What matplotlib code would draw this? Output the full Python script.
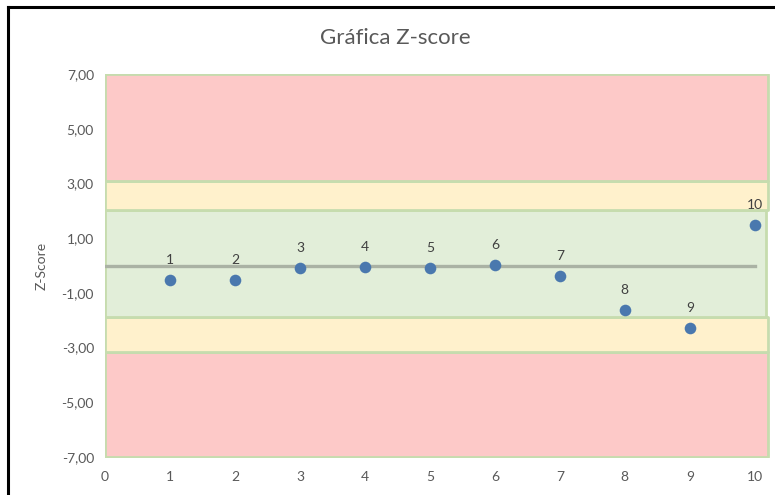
import matplotlib.pyplot as plt
from matplotlib.lines import Line2D

# data
samples = [1, 2, 3, 4, 5, 6, 7, 8, 9, 10]
zscores = [-0.53, -0.53, -0.09, -0.04, -0.09, 0.02, -0.38, -1.61, -2.28, 1.48]
point_labels = ['1', '2', '3', '4', '5', '6', '7', '8', '9', '10']

# background zones (lower, upper) as drawn in the sheet
band_low = [-7.0, -3.15, -1.9, 2.03, 3.08]
band_high = [-3.15, -1.9, 2.03, 3.08, 7.0]
band_colors = ['#fdc9c8', '#fff1cc', '#e2eed9', '#fff1cc', '#fdc9c8']
band_right = [10.2, 10.2, 10.17, 10.2, 10.2]

y_ticks = [7, 5, 3, 1, -1, -3, -5, -7]
x_ticks = [0, 1, 2, 3, 4, 5, 6, 7, 8, 9, 10]

plt.rcParams['font.family'] = ['Lato', 'DejaVu Sans']

fig = plt.figure(figsize=(7.75, 4.95), dpi=100)
ax = fig.add_axes([105 / 775, 38 / 495, 666 / 775, 383 / 495])

for lo, hi, c, r in zip(band_low, band_high, band_colors, band_right):
    ax.fill_between([0, r], lo, hi, facecolor=c, edgecolor='#c6dcae', linewidth=2, zorder=1)

ax.plot([0, 10], [0, 0], color='#aab2a4', linewidth=2.4, zorder=2)
ax.scatter(samples, zscores, s=70, color='#4a78ae', zorder=3, linewidths=0)

for x, y, t in zip(samples, zscores, point_labels):
    ax.annotate(t, (x, y), xytext=(0, 10), textcoords='offset points',
                ha='center', va='bottom', fontsize=10, color='#404040')

ax.set_xlim(0, 10.25)
ax.set_ylim(-7, 7)
ax.set_xticks(x_ticks)
ax.set_yticks(y_ticks)
ax.set_yticklabels([f'{v:.2f}'.replace('.', ',') for v in y_ticks])
ax.tick_params(length=0, labelsize=10, labelcolor='#595959', pad=8)
ax.tick_params(axis='x', pad=10)
for s in ax.spines.values():
    s.set_visible(False)

ax.set_ylabel('Z-Score', fontsize=10, color='#595959', labelpad=10)
fig.text(395 / 775, 1 - 38 / 495, 'Gráfica Z-score', ha='center', va='center',
         fontsize=16, color='#595959')

# chart frame (cropped: only top and left visible)
fig.add_artist(Line2D([8 / 775, 8 / 775], [0, 1 - 7 / 495], color='black', linewidth=2.2))
fig.add_artist(Line2D([8 / 775, 1], [1 - 7 / 495, 1 - 7 / 495], color='black', linewidth=2.2))

fig.savefig('out.png', dpi=100)
